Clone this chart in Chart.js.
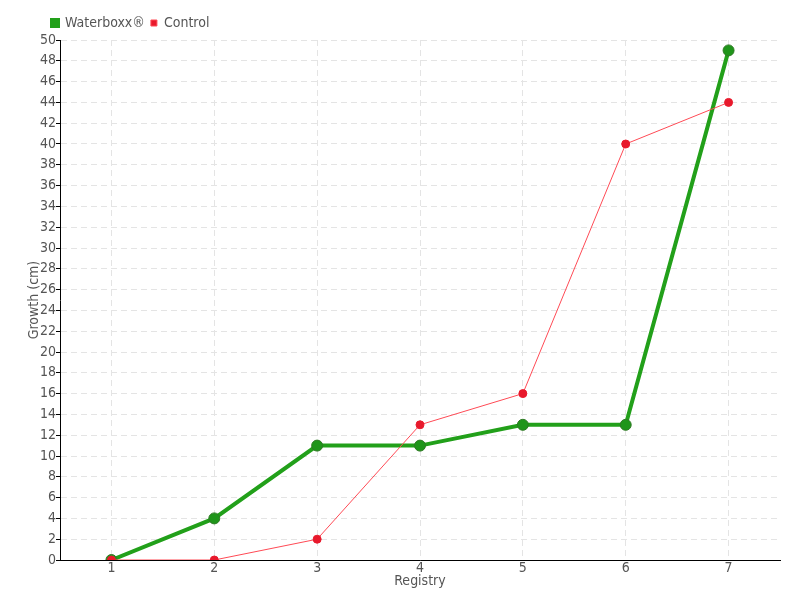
<!DOCTYPE html>
<html>
<head>
<meta charset="utf-8">
<script src="https://cdn.jsdelivr.net/npm/chart.js@4/dist/chart.umd.min.js"></script>
<style>
  html, body { margin: 0; padding: 0; background: #fff; }
  #wrap { width: 800px; height: 600px; }
</style>
</head>
<body>
<div id="wrap"><canvas id="growthChart" width="800" height="600"></canvas></div>
<script>
"use strict";

// カテゴリ（登録回）
const registry = ["1", "2", "3", "4", "5", "6", "7"];
// Waterboxx の成長
const waterboxx = [0, 4, 11, 11, 13, 13, 49];
// 対照区の成長
const control = [0, 0, 2, 13, 16, 40, 44];

const FONT = "'DejaVu Sans Condensed', 'Liberation Sans Narrow', sans-serif";
const TEXT = "#555";

// 凡例を少し右へずらす
const legendShift = {
    id: "legendShift",
    afterLayout(chart) {
        chart.legend.left += 19;
        chart.legend.right += 19;
        chart.legend.adjustHitBoxes && chart.legend.adjustHitBoxes();
    }
};

const ctx = document.getElementById("growthChart");
new Chart(ctx, {
    type: "line",
    data: {
        labels: registry,
        datasets: [
            {
                label: "Waterboxx®",
                data: waterboxx,
                borderColor: "#22a01a",
                backgroundColor: "#22a01a",
                pointBackgroundColor: "#1f951a",
                pointBorderColor: "#2f7a25",
                pointBorderWidth: 1,
                pointRadius: 5.5,
                borderWidth: 4,
                lineTension: 0,
                order: 1
            },
            {
                label: "Control",
                data: control,
                borderColor: "#ff4a55",
                backgroundColor: "#e8192c",
                pointBackgroundColor: "#e8192c",
                pointBorderColor: "#e8192c",
                pointRadius: 4,
                borderWidth: 1,
                lineTension: 0,
                order: 0
            }
        ]
    },
    plugins: [legendShift],
    options: {
        responsive: false,
        animation: false,
        layout: { padding: { left: 27, right: 20, top: 10, bottom: 12 } },
        plugins: {
            legend: {
                align: "start",
                labels: {
                    boxWidth: 6,
                    boxHeight: 6,
                    padding: 6,
                    color: TEXT,
                    font: { family: FONT, size: 14 },
                    sort: (a, b) => a.datasetIndex - b.datasetIndex
                }
            },
            tooltip: { enabled: false }
        },
        scales: {
            x: {
                offset: true,
                afterFit: scale => { scale.height = 28; },
                grid: {
                    color: "#e4e4e4",
                    tickColor: "#888",
                    tickLength: 0
                },
                border: { color: "#000", width: 1, dash: [6, 4] },
                ticks: { color: TEXT, font: { family: FONT, size: 14 }, padding: 0 },
                title: {
                    display: true,
                    text: "Registry",
                    color: TEXT,
                    font: { family: FONT, size: 14, lineHeight: 1 },
                    padding: 0
                }
            },
            y: {
                min: 0,
                max: 50,
                afterFit: scale => { scale.width = 33; },
                ticks: {
                    stepSize: 2,
                    color: TEXT,
                    font: { family: FONT, size: 14 },
                    padding: 0
                },
                grid: {
                    color: "#e4e4e4",
                    tickColor: "#000",
                    tickLength: 4
                },
                border: { color: "#000", width: 1, dash: [6, 4] },
                title: {
                    display: true,
                    text: "Growth (cm)",
                    color: TEXT,
                    font: { family: FONT, size: 14, lineHeight: 1 },
                    padding: 0
                }
            }
        }
    }
});
</script>
</body>
</html>
